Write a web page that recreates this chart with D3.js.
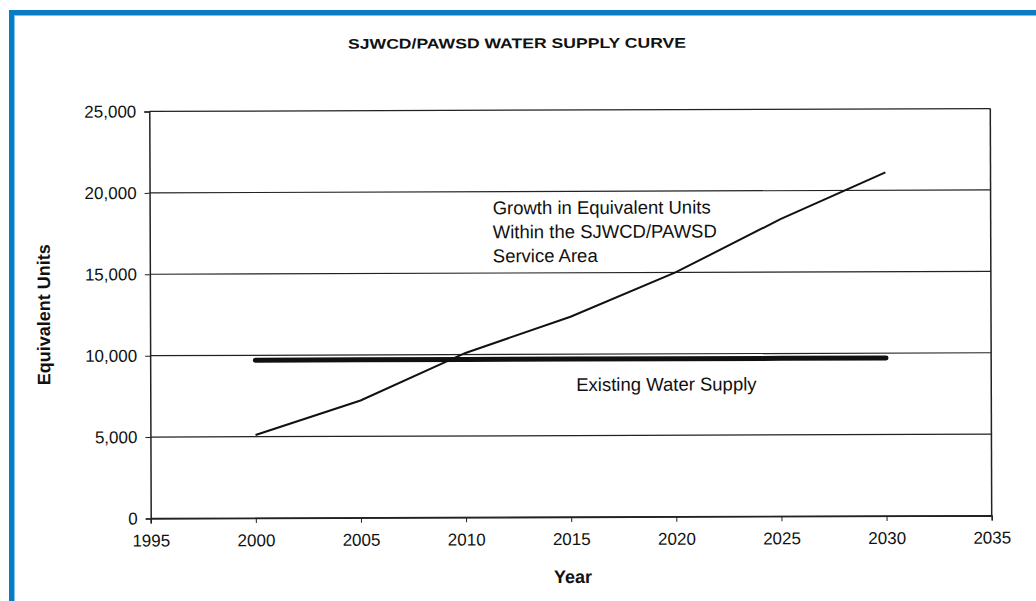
<!DOCTYPE html>
<html lang="en">
<head>
  <meta charset="utf-8" />
  <script src="https://d3js.org/d3.v7.min.js"></script>
  <style>
    body { margin: 0; background: #fff; }
    text { font-family: "Liberation Sans", Arial, sans-serif; fill: #111; }
  </style>
</head>
<body>
  <script>
    // data
    var years = [2000, 2005, 2010, 2015, 2020, 2025, 2030];
    var growth = [5100, 7200, 10100, 12300, 15000, 18250, 21100];
    var supply = [9700, 9700, 9700, 9700, 9700, 9700, 9700];
    var xTicks = [1995, 2000, 2005, 2010, 2015, 2020, 2025, 2030, 2035];
    var yTicks = [0, 5000, 10000, 15000, 20000, 25000];

    var width = 1036, height = 601;
    var margin = { left: 150, right: 45, top: 110, bottom: 84 };

    var svg = d3.select("body").append("svg")
      .attr("width", width)
      .attr("height", height);

    // blue frame (top + left)
    svg.append("rect").attr("x", 9).attr("y", 10).attr("width", width - 9).attr("height", 5).attr("fill", "#0a7cc4");
    svg.append("rect").attr("x", 9).attr("y", 10).attr("width", 5).attr("height", height - 10).attr("fill", "#0a7cc4");
    svg.append("rect").attr("x", 14).attr("y", 15).attr("width", width - 14).attr("height", 1).attr("fill", "#7cc3ec");
    svg.append("rect").attr("x", 14).attr("y", 15).attr("width", 1).attr("height", height - 15).attr("fill", "#7cc3ec");

    // the scan is slightly tilted
    var g = svg.append("g").attr("transform", "rotate(-0.2,570,315)");

    var x = d3.scaleLinear().domain([1995, 2035]).range([margin.left, width - margin.right]);
    var y = d3.scaleLinear().domain([0, 25000]).range([height - margin.bottom, margin.top]);

    g.append("text")
      .attr("x", 518).attr("y", 48)
      .attr("text-anchor", "middle")
      .attr("font-size", 14).attr("font-weight", "bold")
      .attr("textLength", 338).attr("lengthAdjust", "spacingAndGlyphs")
      .text("SJWCD/PAWSD WATER SUPPLY CURVE");

    // gridlines
    g.append("g").selectAll("line").data(yTicks).enter().append("line")
      .attr("x1", x(1995)).attr("x2", x(2035))
      .attr("y1", function (d) { return y(d); }).attr("y2", function (d) { return y(d); })
      .attr("stroke", "#222").attr("stroke-width", 1.2);

    // right border
    g.append("line")
      .attr("x1", x(2035)).attr("x2", x(2035))
      .attr("y1", y(0)).attr("y2", y(25000))
      .attr("stroke", "#222").attr("stroke-width", 1.5);

    var xAxis = g.append("g")
      .attr("transform", "translate(0," + y(0) + ")")
      .call(d3.axisBottom(x).tickValues(xTicks).tickFormat(d3.format("d")).tickSize(5).tickPadding(11));
    xAxis.select(".domain").attr("stroke", "#222").attr("stroke-width", 1.5);
    xAxis.selectAll("line").attr("stroke", "#222");
    xAxis.selectAll("text").style("font-size", "17px").attr("fill", "#111");

    var yAxis = g.append("g")
      .attr("transform", "translate(" + x(1995) + ",0)")
      .call(d3.axisLeft(y).tickValues(yTicks).tickFormat(d3.format(",")).tickSize(5).tickPadding(8));
    yAxis.select(".domain").attr("stroke", "#222").attr("stroke-width", 1.5);
    yAxis.selectAll("line").attr("stroke", "#222");
    yAxis.selectAll("text").style("font-size", "17px").attr("fill", "#111");

    // existing water supply (thick)
    var supplyLine = d3.line()
      .x(function (d, i) { return x(years[i]); })
      .y(function (d) { return y(d); });
    g.append("path")
      .datum(supply)
      .attr("d", supplyLine)
      .attr("fill", "none")
      .attr("stroke", "#111")
      .attr("stroke-width", 5)
      .attr("stroke-linecap", "round");

    // growth curve
    g.append("path")
      .datum(growth)
      .attr("d", supplyLine)
      .attr("fill", "none")
      .attr("stroke", "#111")
      .attr("stroke-width", 2);

    // annotations
    var note = g.append("text").style("font-size", "18.5px").attr("fill", "#222");
    ["Growth in Equivalent Units", "Within the SJWCD/PAWSD", "Service Area"].forEach(function (s, i) {
      note.append("tspan").attr("x", 493).attr("y", 214 + i * 24).text(s);
    });
    g.append("text")
      .attr("x", 576).attr("y", 391)
      .style("font-size", "18.5px").attr("fill", "#222")
      .text("Existing Water Supply");

    // axis titles
    g.append("text")
      .attr("x", 572).attr("y", 583)
      .attr("text-anchor", "middle")
      .style("font-size", "18px").attr("font-weight", "bold")
      .text("Year");
    g.append("text")
      .attr("transform", "translate(50,313) rotate(-90)")
      .attr("text-anchor", "middle")
      .style("font-size", "18px").attr("font-weight", "bold")
      .text("Equivalent Units");
  </script>
</body>
</html>
